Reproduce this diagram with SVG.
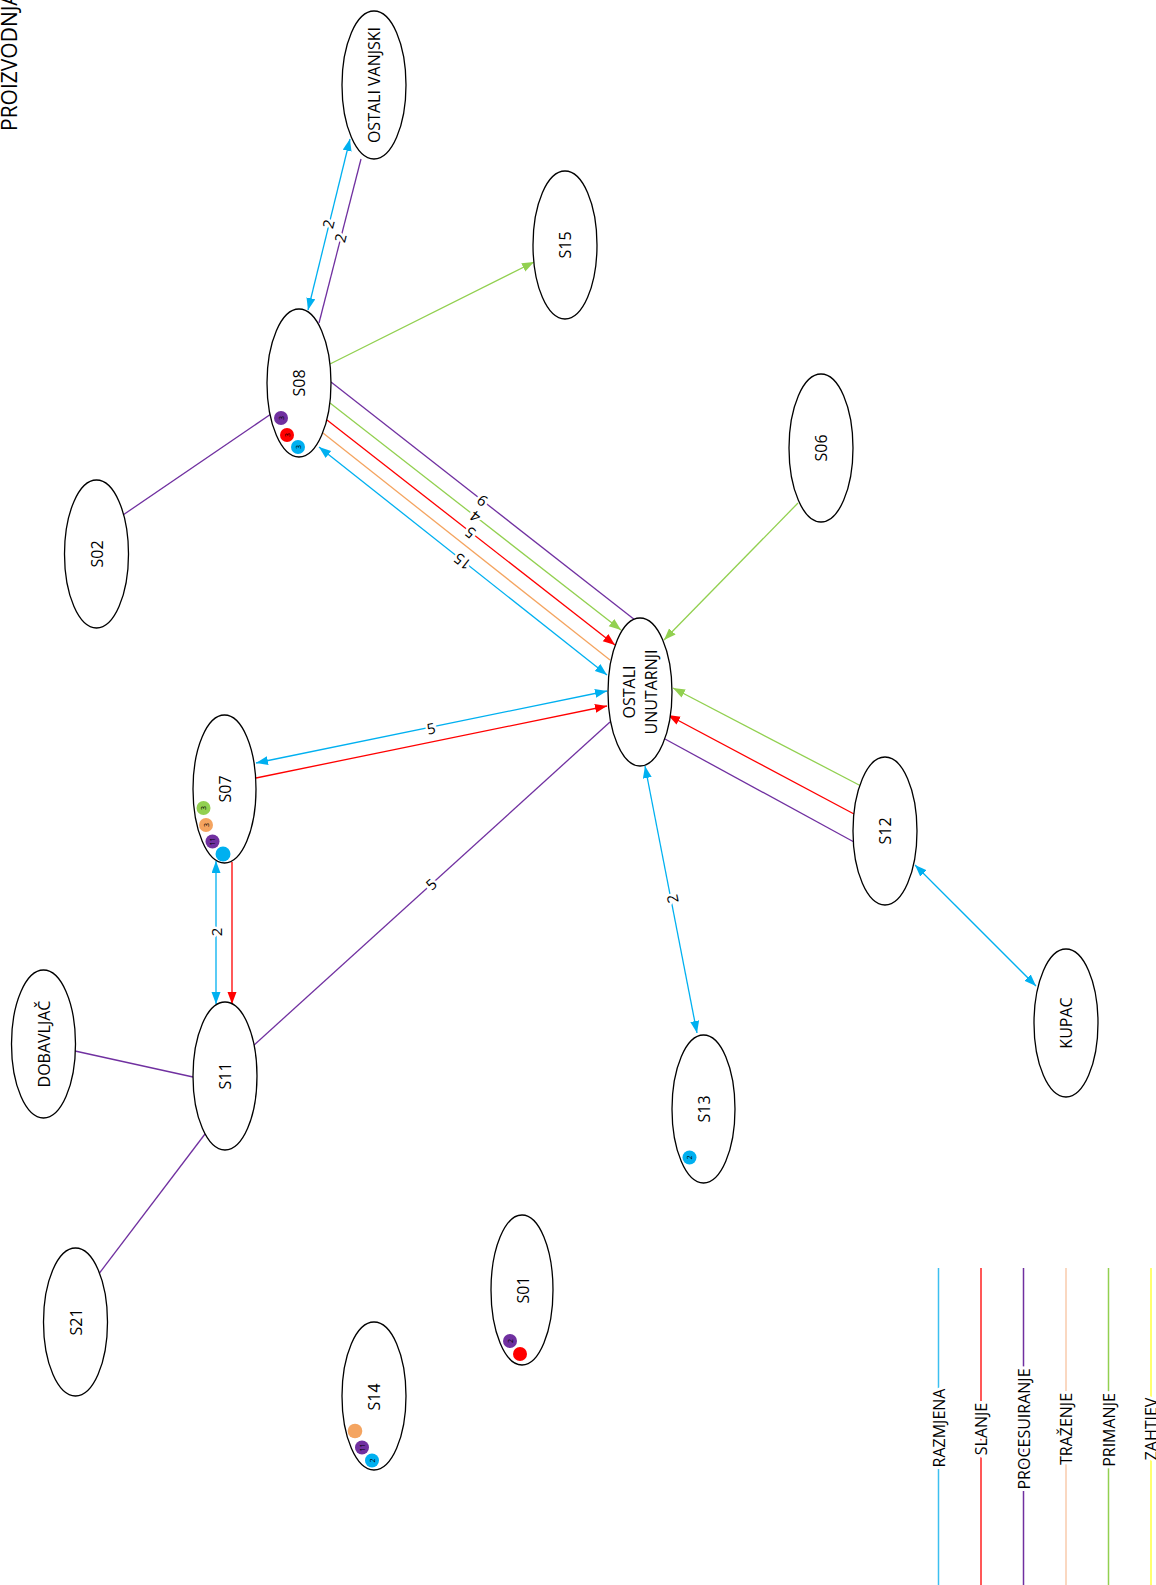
<svg xmlns="http://www.w3.org/2000/svg" width="1156" height="1585" viewBox="0 0 1156 1585">
<style>
.n ellipse{fill:#fff;stroke:#000;stroke-width:1.3}
.t{font-family:"Open Sans","Liberation Sans",sans-serif;font-size:16px;fill:#000;text-anchor:middle;dominant-baseline:central}
.b{font-family:"Open Sans","Liberation Sans",sans-serif;font-size:7px;fill:#000;text-anchor:middle;dominant-baseline:central}
.l{font-family:"Open Sans","Liberation Sans",sans-serif;font-size:15px;fill:#000;text-anchor:middle;dominant-baseline:central;stroke:#fff;stroke-width:5;paint-order:stroke}
.e line{stroke-width:1.3;fill:none}
.blue{stroke:#00B0F0}.red{stroke:#FF0000}.pur{stroke:#7030A0}.ora{stroke:#F4A460}.grn{stroke:#92D050}
.ab{marker-start:url(#mb);marker-end:url(#mb)}
.ar{marker-end:url(#mr)}
.ag{marker-end:url(#mg)}
</style>
<defs>
<marker id="mb" markerUnits="userSpaceOnUse" markerWidth="13" markerHeight="10" refX="12" refY="4.5" orient="auto-start-reverse"><path d="M0,0 L12,4.5 L0,9 z" fill="#00B0F0"/></marker>
<marker id="mr" markerUnits="userSpaceOnUse" markerWidth="13" markerHeight="10" refX="12" refY="4.5" orient="auto"><path d="M0,0 L12,4.5 L0,9 z" fill="#FF0000"/></marker>
<marker id="mg" markerUnits="userSpaceOnUse" markerWidth="13" markerHeight="10" refX="12" refY="4.5" orient="auto"><path d="M0,0 L12,4.5 L0,9 z" fill="#92D050"/></marker>
</defs>
<rect width="1156" height="1585" fill="#fff"/>
<text id="title" transform="translate(17,131) rotate(-90)" style="font-family:'Open Sans','Liberation Sans',sans-serif;font-size:21px" fill="#000">PROIZVODNJA</text>

<g id="connectors" class="e">
<line class="blue ab" x1="308" y1="310" x2="350" y2="139"/>
<line class="pur" x1="319" y1="323" x2="361" y2="159"/>
<line class="grn ag" x1="330" y1="364" x2="534" y2="262"/>
<line class="pur" x1="123" y1="515" x2="271" y2="414"/>
<line class="pur" x1="331" y1="382" x2="635" y2="620"/>
<line class="grn ag" x1="330" y1="403" x2="621" y2="630"/>
<line class="red ar" x1="327" y1="420" x2="615" y2="645"/>
<line class="ora" x1="323" y1="433" x2="610" y2="660"/>
<line class="blue ab" x1="319" y1="447" x2="607" y2="675"/>
<line class="grn ag" x1="798" y1="503" x2="664" y2="640"/>
<line class="blue ab" x1="256" y1="763" x2="607" y2="691"/>
<line class="red ar" x1="256" y1="778" x2="607" y2="706"/>
<line class="grn ag" x1="861" y1="786" x2="673" y2="688"/>
<line class="red ar" x1="854" y1="814" x2="668" y2="715"/>
<line class="pur" x1="854" y1="842" x2="665" y2="739"/>
<line class="pur" x1="253" y1="1046" x2="610" y2="722"/>
<line class="blue ab" x1="645" y1="766" x2="697" y2="1033"/>
<line class="blue ab" x1="915" y1="865" x2="1036" y2="986"/>
<line class="blue ab" x1="216" y1="861" x2="216" y2="1004"/>
<line class="red ar" x1="232" y1="862" x2="232" y2="1004"/>
<line class="pur" x1="75" y1="1051" x2="193" y2="1077"/>
<line class="pur" x1="98" y1="1275" x2="205" y2="1134"/>
<text class="l" transform="translate(328,224) rotate(-76)">2</text>
<text class="l" transform="translate(340,238) rotate(-76)">2</text>
<text class="l" transform="translate(482,501) rotate(218)">9</text>
<text class="l" transform="translate(475,517) rotate(218)">4</text>
<text class="l" transform="translate(470,533) rotate(218)">5</text>
<text class="l" transform="translate(462,562) rotate(218)">15</text>
<text class="l" transform="translate(431,728) rotate(-11.5)">5</text>
<text class="l" transform="translate(431,884) rotate(-42)">5</text>
<text class="l" transform="translate(672,899) rotate(-101)">2</text>
<text class="l" transform="translate(216,932) rotate(-90)">2</text>
</g>

<g id="n-vanjski" class="n"><ellipse cx="374" cy="85" rx="32" ry="74"/><text class="t" transform="translate(374,85) rotate(-90)">OSTALI VANJSKI</text></g>
<g id="n-s15" class="n"><ellipse cx="565" cy="245" rx="32" ry="74"/><text class="t" transform="translate(565,245) rotate(-90)">S15</text></g>
<g id="n-s08" class="n"><ellipse cx="299" cy="383" rx="32" ry="74"/><text class="t" transform="translate(299,383) rotate(-90)">S08</text>
<circle cx="281" cy="418" r="7" fill="#7030A0"/><text class="b" transform="translate(281,418) rotate(-90)">3</text>
<circle cx="287" cy="435" r="7" fill="#FF0000"/><text class="b" transform="translate(287,435) rotate(-90)">3</text>
<circle cx="298" cy="447" r="7" fill="#00B0F0"/><text class="b" transform="translate(298,447) rotate(-90)">3</text></g>
<g id="n-s06" class="n"><ellipse cx="821" cy="448" rx="32" ry="74"/><text class="t" transform="translate(821,448) rotate(-90)">S06</text></g>
<g id="n-s02" class="n"><ellipse cx="96.5" cy="554" rx="32" ry="74"/><text class="t" transform="translate(96.5,554) rotate(-90)">S02</text></g>
<g id="n-unutarnji" class="n"><ellipse cx="640" cy="692" rx="32" ry="74"/><text class="t" transform="translate(629,692) rotate(-90)">OSTALI</text><text class="t" transform="translate(651,692) rotate(-90)">UNUTARNJI</text></g>
<g id="n-s07" class="n"><ellipse cx="224.5" cy="789" rx="31.5" ry="74"/><text class="t" transform="translate(225,789) rotate(-90)">S07</text>
<circle cx="203.5" cy="808" r="7" fill="#92D050"/><text class="b" transform="translate(203.5,808) rotate(-90)">3</text>
<circle cx="206" cy="825" r="7" fill="#F4A460"/><text class="b" transform="translate(206,825) rotate(-90)">3</text>
<circle cx="212.5" cy="841.5" r="7" fill="#7030A0"/><text class="b" transform="translate(212.5,841.5) rotate(-90)">11</text>
<circle cx="223" cy="854" r="7.5" fill="#00B0F0"/></g>
<g id="n-s12" class="n"><ellipse cx="885" cy="831" rx="32" ry="74"/><text class="t" transform="translate(885,831) rotate(-90)">S12</text></g>
<g id="n-dobavljac" class="n"><ellipse cx="43.5" cy="1044" rx="32" ry="74"/><text class="t" transform="translate(43.5,1044) rotate(-90)">DOBAVLJAČ</text></g>
<g id="n-s11" class="n"><ellipse cx="225" cy="1076" rx="32" ry="74"/><text class="t" transform="translate(225,1076) rotate(-90)">S11</text></g>
<g id="n-kupac" class="n"><ellipse cx="1066" cy="1023" rx="32" ry="74"/><text class="t" transform="translate(1066,1023) rotate(-90)">KUPAC</text></g>
<g id="n-s13" class="n"><ellipse cx="703.5" cy="1109" rx="31.5" ry="74"/><text class="t" transform="translate(703.5,1109) rotate(-90)">S13</text>
<circle cx="689.5" cy="1157.5" r="7" fill="#00B0F0"/><text class="b" transform="translate(689.5,1157.5) rotate(-90)">2</text></g>
<g id="n-s21" class="n"><ellipse cx="75.5" cy="1322" rx="32" ry="74"/><text class="t" transform="translate(75.5,1322) rotate(-90)">S21</text></g>
<g id="n-s01" class="n"><ellipse cx="522" cy="1290" rx="31" ry="75"/><text class="t" transform="translate(523,1290) rotate(-90)">S01</text>
<circle cx="510" cy="1341" r="7" fill="#7030A0"/><text class="b" transform="translate(510,1341) rotate(-90)">2</text>
<circle cx="520" cy="1354" r="7" fill="#FF0000"/></g>
<g id="n-s14" class="n"><ellipse cx="374" cy="1396" rx="32" ry="74"/><text class="t" transform="translate(374,1397) rotate(-90)">S14</text>
<circle cx="355" cy="1431" r="7.3" fill="#F4A460"/>
<circle cx="362" cy="1447.5" r="7" fill="#7030A0"/><text class="b" transform="translate(362,1447.5) rotate(-90)">11</text>
<circle cx="372" cy="1460.5" r="7" fill="#00B0F0"/><text class="b" transform="translate(372,1460.5) rotate(-90)">2</text></g>

<g id="legend">
<line x1="938.5" y1="1268" x2="938.5" y2="1585" stroke="#3CBFF0" stroke-width="1.5"/>
<line x1="981" y1="1268" x2="981" y2="1585" stroke="#FF2020" stroke-width="1.5"/>
<line x1="1023.5" y1="1268" x2="1023.5" y2="1585" stroke="#7030A0" stroke-width="1.5"/>
<line x1="1066" y1="1268" x2="1066" y2="1585" stroke="#F8CBAD" stroke-width="1.5"/>
<line x1="1108.5" y1="1268" x2="1108.5" y2="1585" stroke="#92D050" stroke-width="1.5"/>
<line x1="1151" y1="1268" x2="1151" y2="1585" stroke="#FFFF40" stroke-width="1.5"/>
<text class="l" style="font-size:16px;stroke-width:6" transform="translate(938.5,1428) rotate(-90)">RAZMJENA</text>
<text class="l" style="font-size:16px;stroke-width:6" transform="translate(981,1429) rotate(-90)">SLANJE</text>
<text class="l" style="font-size:16px;stroke-width:6" transform="translate(1023.5,1429) rotate(-90)">PROCESUIRANJE</text>
<text class="l" style="font-size:16px;stroke-width:6" transform="translate(1066,1429) rotate(-90)">TRAŽENJE</text>
<text class="l" style="font-size:16px;stroke-width:6" transform="translate(1108.5,1430) rotate(-90)">PRIMANJE</text>
<text class="l" style="font-size:16px;stroke-width:6" transform="translate(1151,1429) rotate(-90)">ZAHTJEV</text>
</g>
</svg>
